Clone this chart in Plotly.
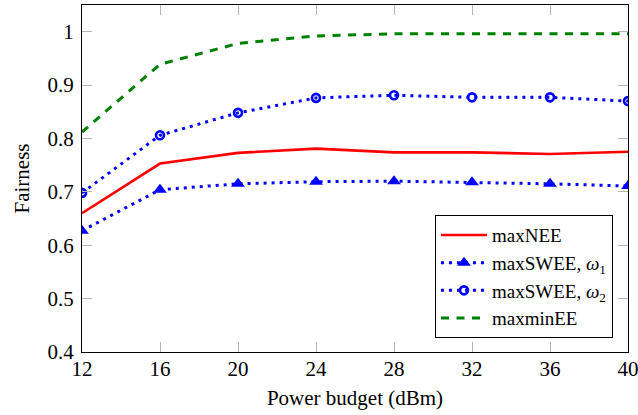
import plotly.graph_objects as go

power_dbm = [12, 16, 20, 24, 28, 32, 36, 40]
max_nee = [0.660, 0.753, 0.773, 0.781, 0.774, 0.774, 0.771, 0.775]
max_swee_w1 = [0.627, 0.704, 0.715, 0.719, 0.720, 0.718, 0.715, 0.711]
max_swee_w2 = [0.698, 0.806, 0.848, 0.876, 0.881, 0.877, 0.877, 0.870]
maxmin_ee = [0.812, 0.939, 0.978, 0.992, 0.996, 0.996, 0.996, 0.996]

x_ticks = [12, 16, 20, 24, 28, 32, 36, 40]
y_ticks = [0.4, 0.5, 0.6, 0.7, 0.8, 0.9, 1.0]
y_tick_labels = ["0.4", "0.5", "0.6", "0.7", "0.8", "0.9", "1"]

FONT = "Liberation Serif, Times New Roman, serif"

fig = go.Figure()
fig.add_trace(go.Scatter(x=power_dbm, y=max_nee, mode="lines", name="maxNEE",
                         line=dict(color="#ff0000", width=2.6)))
fig.add_trace(go.Scatter(x=power_dbm, y=max_swee_w1, mode="lines+markers",
                         name="maxSWEE, <i>ω</i><sub>1</sub>",
                         line=dict(color="#0000ff", width=3, dash="3px,5px"),
                         marker=dict(symbol="triangle-up", size=12, color="#0000ff")))
fig.add_trace(go.Scatter(x=power_dbm, y=max_swee_w2, mode="lines+markers",
                         name="maxSWEE, <i>ω</i><sub>2</sub>",
                         line=dict(color="#0000ff", width=3, dash="3px,5px"),
                         marker=dict(symbol="circle-open", size=8, color="#0000ff",
                                     line=dict(width=2.6, color="#0000ff"))))
fig.add_trace(go.Scatter(x=power_dbm, y=maxmin_ee, mode="lines", name="maxminEE",
                         line=dict(color="#008000", width=3, dash="8px,7.5px")))

axis_common = dict(showgrid=False, zeroline=False, showline=True, linecolor="black",
                   linewidth=1, mirror="ticks", ticks="inside", ticklen=10,
                   tickcolor="#b4b4b4", tickwidth=1.2, automargin=False,
                   ticklabeloverflow="allow",
                   tickfont=dict(family=FONT, size=21, color="black"))

fig.update_xaxes(range=[12, 40], tickvals=x_ticks, ticklabelstandoff=-2,
                 title=dict(text="Power budget (dBm)", font=dict(family=FONT, size=21, color="black"),
                            standoff=10),
                 **axis_common)
fig.update_yaxes(range=[0.4, 1.05], tickvals=y_ticks, ticktext=y_tick_labels,
                 ticklabelstandoff=3,
                 title=dict(text="Fairness", font=dict(family=FONT, size=21, color="black"),
                            standoff=12),
                 **axis_common)

fig.update_layout(
    width=638, height=415,
    margin=dict(l=82, r=10, t=5, b=63),
    plot_bgcolor="white", paper_bgcolor="white",
    font=dict(family=FONT, size=20, color="black"),
    legend=dict(x=0.9725, y=0.04, xanchor="right", yanchor="bottom",
                bgcolor="white", bordercolor="black", borderwidth=1,
                font=dict(family=FONT, size=19, color="black"),
                tracegroupgap=0, itemwidth=46),
    showlegend=True,
)

fig.write_html("out.html", config={"displayModeBar": False},
               post_script="document.body.style.margin='0';document.body.style.padding='0';")
